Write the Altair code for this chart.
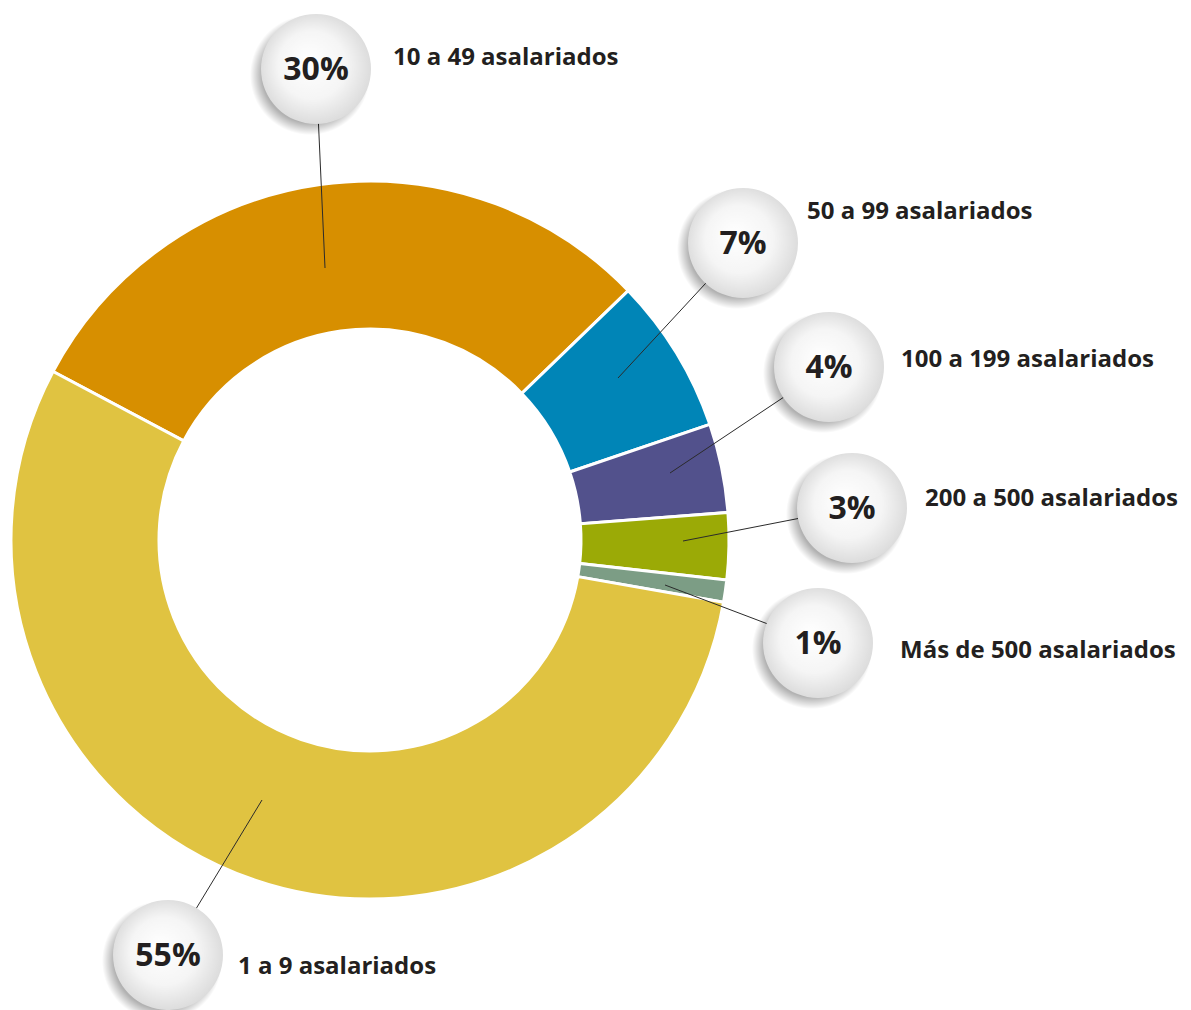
import math
import altair as alt
import pandas as pd

# ---- data ----
categories = ["10 a 49 asalariados", "50 a 99 asalariados", "100 a 199 asalariados",
              "200 a 500 asalariados", "Más de 500 asalariados", "1 a 9 asalariados"]
shares = [30, 7, 4, 3, 1, 55]
pct_labels = ["30%", "7%", "4%", "3%", "1%", "55%"]
colors = ["#D78F00", "#0085B7", "#52518C", "#9BAA06", "#7C9D85", "#E0C341"]

# ---- layout (in the chart's own x/y units) ----
center_x, center_y = 370, 540
outer_r, inner_r = 359, 211
start_deg = -62
bubble_x = [316, 743, 829, 852, 818, 168]
bubble_y = [69, 243, 367, 508, 643, 955]
leader_x = [325, 618, 670, 683, 665, 262]
leader_y = [268, 378, 473, 541, 585, 800]
label_x = [393, 807, 901, 925, 900, 238]
label_y = [58, 212, 360, 499, 651, 967]
bubble_r = 55
shadow_r = 60
shadow_dx, shadow_dy = -6, 6

xs = alt.Scale(domain=[8, 1183], nice=False, zero=False)
ys = alt.Scale(domain=[8, 1010], nice=False, zero=False, reverse=True)

donut_df = pd.DataFrame({"cat": categories, "share": shares, "idx": list(range(len(shares))),
                         "cx": [center_x] * len(shares), "cy": [center_y] * len(shares)})
start = math.radians(start_deg)

arc = alt.Chart(donut_df).mark_arc(radius=outer_r, radius2=inner_r, stroke="white", strokeWidth=3).encode(
    theta=alt.Theta("share:Q", stack=True, scale=alt.Scale(range=[start, start + 2 * math.pi])),
    color=alt.Color("cat:N", scale=alt.Scale(domain=categories, range=colors), legend=None),
    order=alt.Order("idx:Q"),
    x=alt.X("cx:Q", scale=xs, axis=None),
    y=alt.Y("cy:Q", scale=ys, axis=None),
)

lab_df = pd.DataFrame({
    "cat": categories, "pct": pct_labels,
    "bx": bubble_x, "by": bubble_y,
    "sx": [v + shadow_dx for v in bubble_x], "sy": [v + shadow_dy for v in bubble_y],
    "lx": leader_x, "ly": leader_y,
    "tx": label_x, "ty": label_y,
})

leaders = alt.Chart(lab_df).mark_rule(color="#2b2b2b", strokeWidth=1).encode(
    x=alt.X("lx:Q", scale=xs, axis=None), y=alt.Y("ly:Q", scale=ys, axis=None),
    x2="bx:Q", y2="by:Q",
)

shadow_fill = alt.RadialGradient(
    gradient="radial", x1=0.5, y1=0.5, r1=0, x2=0.5, y2=0.5, r2=0.5,
    stops=[alt.GradientStop(color="rgba(0,0,0,0.45)", offset=0),
           alt.GradientStop(color="rgba(0,0,0,0.30)", offset=0.8),
           alt.GradientStop(color="rgba(0,0,0,0)", offset=1)])

# Vega circle symbols: radius = sqrt(size) / 2
shadows = alt.Chart(lab_df).mark_circle(size=(2 * shadow_r) ** 2, fill=shadow_fill, opacity=1).encode(
    x=alt.X("sx:Q", scale=xs, axis=None), y=alt.Y("sy:Q", scale=ys, axis=None),
)

bubble_fill = alt.RadialGradient(
    gradient="radial", x1=0.42, y1=0.42, r1=0, x2=0.5, y2=0.5, r2=0.56,
    stops=[alt.GradientStop(color="#ffffff", offset=0),
           alt.GradientStop(color="#f5f5f5", offset=0.55),
           alt.GradientStop(color="#d6d6d6", offset=1)])

bubbles = alt.Chart(lab_df).mark_circle(size=(2 * bubble_r) ** 2, fill=bubble_fill, opacity=1).encode(
    x=alt.X("bx:Q", scale=xs, axis=None), y=alt.Y("by:Q", scale=ys, axis=None),
)

pct_text = alt.Chart(lab_df).mark_text(font="Open Sans", fontWeight="bold", fontSize=32, color="#231f20",
                                       align="center", baseline="middle", dy=1).encode(
    x=alt.X("bx:Q", scale=xs, axis=None), y=alt.Y("by:Q", scale=ys, axis=None), text="pct:N",
)

cat_text = alt.Chart(lab_df).mark_text(font="Open Sans", fontWeight="bold", fontSize=24, color="#231f20",
                                       align="left", baseline="middle").encode(
    x=alt.X("tx:Q", scale=xs, axis=None), y=alt.Y("ty:Q", scale=ys, axis=None), text="cat:N",
)

chart = alt.layer(arc, leaders, shadows, bubbles, pct_text, cat_text).properties(
    width=1175, height=1002, autosize="none", padding=0,
).configure_view(stroke=None)

chart.save("out.html", embed_options={"renderer": "svg", "actions": False})
